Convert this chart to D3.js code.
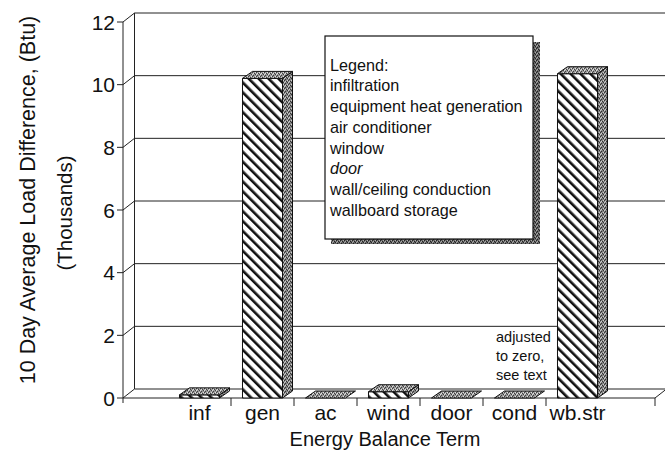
<!DOCTYPE html>
<html>
<head>
<meta charset="utf-8">
<script src="https://cdn.jsdelivr.net/npm/d3@7"></script>
<style>
  body { margin: 0; background: #fff; }
  svg { display: block; font-family: "Liberation Sans", Arial, sans-serif; }
</style>
</head>
<body>
<div id="chart"></div>
<script>
// values (thousands of Btu)
const categories = ["inf", "gen", "ac", "wind", "door", "cond", "wb.str"];
const loadDiff = [0.1, 10.2, 0, 0.2, 0, 0, 10.35];
const yTicks = [0, 2, 4, 6, 8, 10, 12];
const legendLines = ["Legend:", "infiltration", "equipment heat generation", "air conditioner",
  "window", "door", "wall/ceiling conduction", "wallboard storage"];
const noteLines = ["adjusted", "to zero,", "see text"];

const width = 665, height = 453;
const front = { left: 123, right: 655 };
const depth = { dx: 11.5, dy: -9 };      // wall / floor depth
const barDepth = { dx: 10, dy: -7 };

const svg = d3.select("#chart").append("svg")
  .attr("width", width)
  .attr("height", height);

const defs = svg.append("defs");

const hatch = defs.append("pattern")
  .attr("id", "hatch")
  .attr("patternUnits", "userSpaceOnUse")
  .attr("width", 7).attr("height", 7)
  .attr("patternTransform", "rotate(-45)");
hatch.append("rect").attr("width", 7).attr("height", 7).attr("fill", "#fff");
hatch.append("rect").attr("width", 2.6).attr("height", 7).attr("fill", "#111");

function stipple(id, base, dark, light) {
  const p = defs.append("pattern")
    .attr("id", id)
    .attr("patternUnits", "userSpaceOnUse")
    .attr("width", 4).attr("height", 4);
  p.append("rect").attr("width", 4).attr("height", 4).attr("fill", base);
  [[0, 0], [2, 1], [1, 3], [3, 2]].forEach(([a, b]) =>
    p.append("rect").attr("x", a).attr("y", b).attr("width", 1).attr("height", 1).attr("fill", dark));
  [[1, 1], [3, 0], [0, 2]].forEach(([a, b]) =>
    p.append("rect").attr("x", a).attr("y", b).attr("width", 1).attr("height", 1).attr("fill", light));
}
stipple("sideFill", "#858585", "#333", "#cfcfcf");
stipple("topFill", "#9a9a9a", "#404040", "#e0e0e0");
stipple("shadowFill", "#666", "#222", "#aaa");

const y = d3.scaleLinear().domain([0, 12]).range([398, 22]);
const x = d3.scaleBand().domain(categories).range([168, 609]);
const barW = x.bandwidth() * 0.635;

// back wall gridlines + depth ticks
const grid = svg.append("g").attr("stroke", "#222").attr("stroke-width", 1).attr("fill", "none");
yTicks.forEach((t) => {
  const yy = y(t);
  grid.append("line")
    .attr("x1", front.left + depth.dx).attr("y1", yy + depth.dy)
    .attr("x2", width + 2).attr("y2", yy + depth.dy);
  grid.append("line")
    .attr("x1", front.left).attr("y1", yy)
    .attr("x2", front.left + depth.dx).attr("y2", yy + depth.dy);
  grid.append("line")
    .attr("x1", front.left - 6).attr("y1", yy)
    .attr("x2", front.left).attr("y2", yy);
});
// back vertical wall edge and front axis
grid.append("line")
  .attr("x1", front.left + depth.dx).attr("y1", y(12) + depth.dy)
  .attr("x2", front.left + depth.dx).attr("y2", y(0) + depth.dy);
grid.append("line")
  .attr("x1", front.left).attr("y1", y(12))
  .attr("x2", front.left).attr("y2", y(0) + 5);
// floor front edge and right edge
grid.append("line")
  .attr("x1", front.left).attr("y1", y(0))
  .attr("x2", front.right).attr("y2", y(0));
grid.append("line")
  .attr("x1", front.right).attr("y1", y(0))
  .attr("x2", front.right + depth.dx).attr("y2", y(0) + depth.dy);

// category ticks under the floor
const tickXs = categories.slice(1).map((c) => x(c)).concat([front.right]);
tickXs.forEach((tx) => {
  grid.append("line")
    .attr("x1", tx).attr("y1", y(0))
    .attr("x2", tx).attr("y2", y(0) + 8);
});

// tick labels
svg.append("g")
  .selectAll("text")
  .data(yTicks)
  .enter()
  .append("text")
  .attr("x", 115)
  .attr("y", (d) => y(d))
  .attr("dy", "0.36em")
  .attr("text-anchor", "end")
  .attr("font-size", 21)
  .attr("fill", "#111")
  .text((d) => d);

// 3-d bars
const bars = svg.append("g").attr("stroke", "#111").attr("stroke-width", 1).attr("stroke-linejoin", "round");
categories.forEach((c, i) => {
  const v = loadDiff[i];
  const x0 = x(c) + (x.bandwidth() - barW) / 2;
  const x1 = x0 + barW;
  const yt = y(v);
  const yb = y(0);
  const bx = barDepth.dx, by = barDepth.dy;

  if (yb - yt > 0.5) {
    bars.append("rect")
      .attr("x", x0).attr("y", yt)
      .attr("width", barW).attr("height", yb - yt)
      .attr("fill", "url(#hatch)");
    bars.append("path")
      .attr("d", `M${x1},${yt}L${x1 + bx},${yt + by}L${x1 + bx},${yb + by}L${x1},${yb}Z`)
      .attr("fill", "url(#sideFill)");
  }
  bars.append("path")
    .attr("d", `M${x0},${yt}L${x1},${yt}L${x1 + bx},${yt + by}L${x0 + bx},${yt + by}Z`)
    .attr("fill", "url(#topFill)");
});

// legend box with shadow
const lg = svg.append("g");
lg.append("rect")
  .attr("x", 331).attr("y", 42)
  .attr("width", 209).attr("height", 202)
  .attr("fill", "url(#shadowFill)");
lg.append("rect")
  .attr("x", 325).attr("y", 36)
  .attr("width", 208).attr("height", 203)
  .attr("fill", "#fff")
  .attr("stroke", "#111")
  .attr("stroke-width", 1.2);
lg.selectAll("text")
  .data(legendLines)
  .enter()
  .append("text")
  .attr("x", 330)
  .attr("y", (d, i) => 70.5 + i * 20.75)
  .attr("font-size", 16.2)
  .attr("font-style", (d) => d === "door" ? "italic" : "normal")
  .attr("fill", "#111")
  .text((d) => d);

// note near cond
svg.append("g")
  .selectAll("text")
  .data(noteLines)
  .enter()
  .append("text")
  .attr("x", 496)
  .attr("y", (d, i) => 342 + i * 19)
  .attr("font-size", 14.5)
  .attr("fill", "#111")
  .text((d) => d);

// category labels
svg.append("g")
  .selectAll("text")
  .data(categories)
  .enter()
  .append("text")
  .attr("x", (d) => x(d) + x.bandwidth() / 2)
  .attr("y", 420)
  .attr("text-anchor", "middle")
  .attr("font-size", 21)
  .attr("fill", "#111")
  .text((d) => d);

svg.append("text")
  .attr("x", 385)
  .attr("y", 446)
  .attr("text-anchor", "middle")
  .attr("font-size", 20)
  .attr("fill", "#111")
  .text("Energy Balance Term");

svg.append("text")
  .attr("transform", "translate(35,200) rotate(-90)")
  .attr("text-anchor", "middle")
  .attr("font-size", 21.5)
  .attr("fill", "#111")
  .text("10 Day Average Load Difference, (Btu)");

svg.append("text")
  .attr("transform", "translate(72,213) rotate(-90)")
  .attr("text-anchor", "middle")
  .attr("font-size", 20.5)
  .attr("fill", "#111")
  .text("(Thousands)");
</script>
</body>
</html>
